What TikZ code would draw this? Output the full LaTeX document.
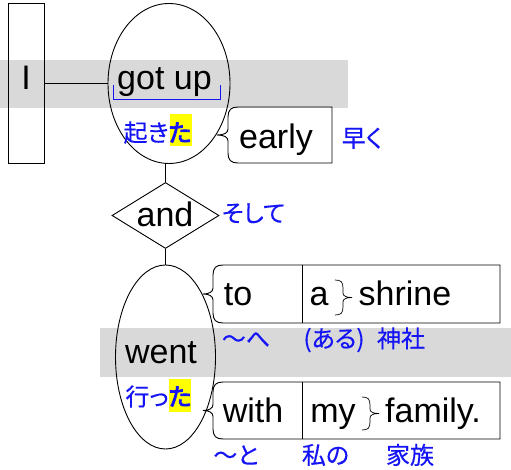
\documentclass[tikz,border=0pt]{standalone}
\usepackage{fontspec}
\setmainfont{Liberation Sans}
\newfontfamily\cjk[RawFeature=+palt,FakeBold=0.3]{Noto Sans CJK JP}
\newfontfamily\cjkb[RawFeature=+palt,FakeBold=3.5]{Noto Sans CJK JP}
\usetikzlibrary{shapes.geometric}
\definecolor{jblue}{RGB}{20,20,245}
\definecolor{band}{RGB}{217,217,217}
\definecolor{hl}{RGB}{255,255,0}
\tikzset{
  ln/.style={line width=0.9pt, draw=black},
  thinbrace/.style={line width=0.7pt, draw=black},
  en/.style={font=\fontsize{34}{37}\selectfont, inner sep=0pt, anchor=base},
  jp/.style={font=\cjk\fontsize{24}{26}\selectfont, text=jblue, inner sep=0pt, anchor=base},
  ell/.style={ellipse, ln, inner sep=0pt},
  hlbox/.style={fill=hl},
  bandfill/.style={fill=band},
}
\begin{document}
\begin{tikzpicture}[x=1pt,y=-1pt]
\useasboundingbox (0,0) rectangle (511,470);
% gray bands
\fill[bandfill] (0,60) rectangle (348,108);
\fill[bandfill] (100,328) rectangle (511,377);
% I box
\node[ln, minimum width=36pt, minimum height=160pt, inner sep=0pt, anchor=north west] (Ibox) at (8,3.5) {};
\node[en] (I) at (26,90) {I};
% got up
\node[ell, minimum width=122pt, minimum height=160pt] (gotupE) at (169,83.5) {};
\node[en] (gotup) at (164.5,90) {got up};
\draw[ln] (Ibox.east) -- (Ibox.east -| gotupE.west);
\draw[jblue, line width=0.8pt] (113,85) -- (113,99) -- (220,99) -- (220,85);
\fill[hlbox] (170,114) rectangle (192,146);
\node[jp] (okita) at (157.5,141.6) {起き{\cjkb た}};
% early
\draw[ln] (332,107) -- (238,107) .. controls (231,107) and (228,110) .. (228,117) -- (228,129) .. controls (228,133) and (224,135) .. (217,135) .. controls (224,135) and (228,137) .. (228,141) -- (228,153) .. controls (228,160) and (231,163) .. (238,163) -- (332,163) -- cycle;
\node[en] (early) at (276,149) {early};
\node[jp] (hayaku) at (362,147) {早く};
% and
\node[diamond, ln, minimum width=107pt, minimum height=66pt, inner sep=0pt] (andD) at (165.5,215.5) {};
\node[en] (and) at (165,227) {and};
\draw[ln] (andD.north) -- (andD.north |- gotupE.south);
\node[jp] (soshite) at (253.5,222) {そして};
% went
\node[ell, minimum width=100pt, minimum height=184pt] (wentE) at (165.5,357) {};
\draw[ln] (andD.south) -- (wentE.north);
\node[en] (went) at (161,363) {went};
\fill[hlbox] (169,379) rectangle (191,412);
\node[jp] (itta) at (158.5,405.6) {行っ{\cjkb た}};
% to a shrine
\draw[ln] (500,265) -- (223,265) .. controls (216,265) and (213,268) .. (213,275) -- (213,288) .. controls (213,292) and (209,294) .. (203,294) .. controls (209,294) and (213,296) .. (213,300) -- (213,313) .. controls (213,320) and (216,323) .. (223,323) -- (500,323) -- cycle;
\draw[ln] (302,265) -- (302,323);
\node[en] (to) at (238,305) {to};
\node[en] (a) at (319,305) {a};
\node[en] (shrine) at (405,305) {shrine};
\draw[thinbrace] (335,280) .. controls (341,280) and (343,282) .. (343,288) -- (343,293) .. controls (343,296) and (346,297.5) .. (352,297.5) .. controls (346,297.5) and (343,299) .. (343,302) -- (343,307) .. controls (343,313) and (341,315) .. (335,315);
\node[jp] (he) at (246,347.5) {～へ};
\node[jp] (aru) at (334,347.5) {(ある)};
\node[jp] (jinja) at (401,347.5) {神社};
% with my family
\draw[ln] (500,382) -- (223,382) .. controls (216,382) and (213,385) .. (213,392) -- (213,404.5) .. controls (213,408.5) and (209,410.5) .. (203,410.5) .. controls (209,410.5) and (213,412.5) .. (213,416.5) -- (213,429) .. controls (213,436) and (216,439) .. (223,439) -- (500,439) -- cycle;
\draw[ln] (302,382) -- (302,439);
\node[en] (with) at (253,422) {with};
\node[en] (my) at (333,422) {my};
\node[en] (family) at (433,422) {family.};
\draw[thinbrace] (362,397) .. controls (368,397) and (370,399) .. (370,405) -- (370,409) .. controls (370,412) and (373,413.5) .. (379,413.5) .. controls (373,413.5) and (370,415) .. (370,418) -- (370,422) .. controls (370,428) and (368,430) .. (362,430);
\node[jp] (to2) at (236,464) {～と};
\node[jp] (watashino) at (325.5,464) {私の};
\node[jp] (kazoku) at (410,464) {家族};
\end{tikzpicture}
\end{document}
